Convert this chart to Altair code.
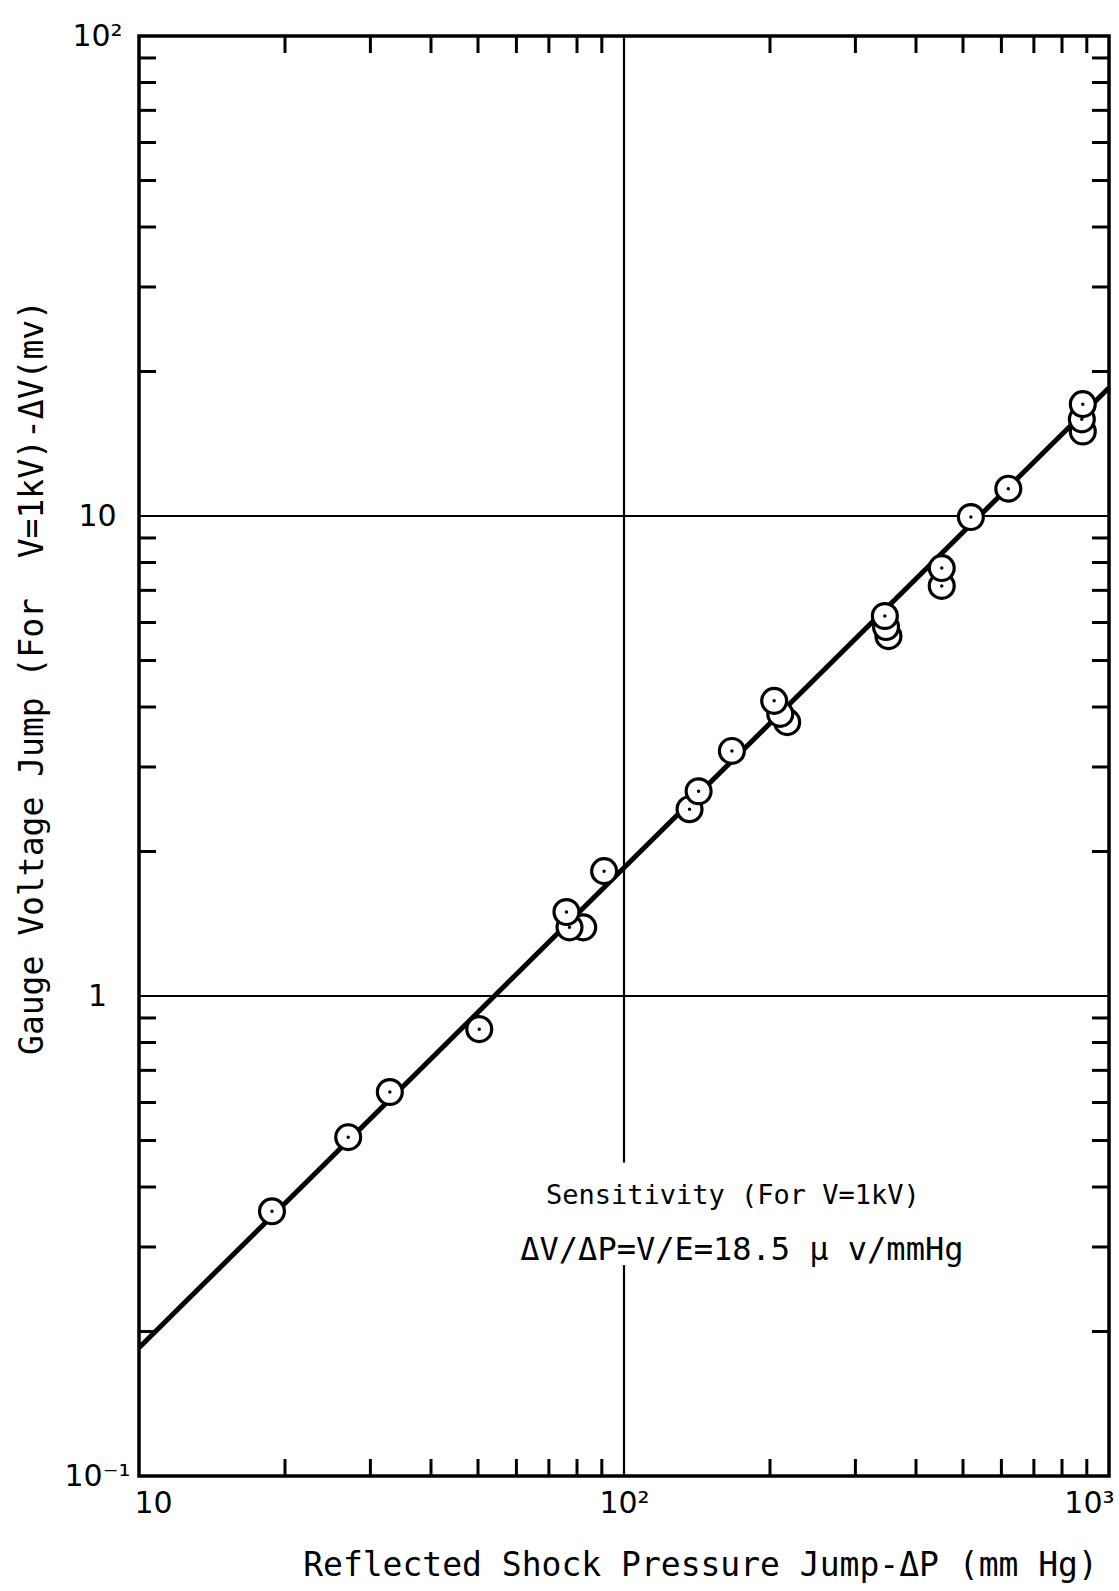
import altair as alt
import pandas as pd

# ---- data ----
pressure = [18.8, 27.0, 32.9, 50.3, 82.4, 77.2, 76.1, 91.0, 136.5, 142.5, 166.9,
            217, 210, 204, 351, 347, 345, 452, 452, 519, 620, 883, 879, 883]
voltage = [0.356, 0.508, 0.631, 0.853, 1.39, 1.39, 1.496, 1.82, 2.45, 2.67, 3.24,
           3.72, 3.87, 4.12, 5.62, 5.87, 6.19, 7.15, 7.79, 9.95, 11.4, 15.0, 15.9, 17.1]
dotted = [1, 1, 1, 1, 0, 1, 1, 1, 1, 1, 1,
          0, 0, 1, 0, 0, 1, 1, 1, 1, 1, 0, 1, 1]

fit_x = [10, 1000]
fit_y = [0.185, 18.5]

grid_y = [1, 10]
vgrid_upper = [100, 0.45]
vgrid_lower = [0.275, 0.1]

x_minor = [20, 30, 40, 50, 60, 70, 80, 90, 200, 300, 400, 500, 600, 700, 800, 900]
y_minor = [0.2, 0.3, 0.4, 0.5, 0.6, 0.7, 0.8, 0.9, 2, 3, 4, 5, 6, 7, 8, 9,
           20, 30, 40, 50, 60, 70, 80, 90]

x_label_values = [10, 100, 1000]
y_label_values = [0.1, 1, 10, 100]

note_lines = ["Sensitivity (For V=1kV)", "ΔV/ΔP=V/E=18.5 μ v/mmHg"]
note_x = [167.7, 175.0]
note_y = [0.383, 0.296]
note_size = [27, 32]

W, H = 970, 1440
FONT = "DejaVu Sans"
LETTER = "DejaVu Sans Mono"
TICK = 17

points = pd.DataFrame({"p": pressure, "v": voltage, "dot": dotted,
                       "order": list(range(len(pressure)))})
fit = pd.DataFrame({"p": fit_x, "v": fit_y})
hgrid = pd.DataFrame({"v": grid_y, "p": [10] * len(grid_y), "p2": [1000] * len(grid_y)})
vgrid = pd.DataFrame({"p": [100, 100], "v": [vgrid_upper[0], vgrid_lower[0]],
                      "v2": [vgrid_upper[1], vgrid_lower[1]]})
xt = pd.DataFrame({"p": x_minor})
yt = pd.DataFrame({"v": y_minor})
notes = pd.DataFrame({"t": note_lines, "p": note_x, "v": note_y, "s": note_size})

xscale = alt.Scale(type="log", domain=[10, 1000], nice=False)
yscale = alt.Scale(type="log", domain=[0.1, 100], nice=False)

xaxis = alt.Axis(
    values=x_label_values,
    labelExpr="datum.value < 50 ? '10' : datum.value < 500 ? '10²' : '10³'",
    ticks=False, domain=False, grid=False,
    labelFont=FONT, labelFontSize=30, labelPadding=12, labelColor="black",
    labelFlush=True, labelFlushOffset=5,
    title="Reflected Shock Pressure Jump-ΔP (mm Hg)",
    titleFont=LETTER, titleFontSize=33, titleFontWeight="normal", titleColor="black",
    titleX=561, titleY=89, titleAlign="center", titleBaseline="middle",
)
yaxis = alt.Axis(
    values=y_label_values,
    labelExpr="datum.value < 0.5 ? '10⁻¹' : datum.value < 5 ? '1' : datum.value < 50 ? '10' : '10²'",
    ticks=False, domain=False, grid=False,
    labelFont=FONT, labelFontSize=30, labelPadding=42, labelAlign="center",
    labelBaseline="middle", labelColor="black", labelFlush=False,
    title="Gauge Voltage Jump (For\u00a0 V=1kV)-ΔV(mv)",
    titleFont=LETTER, titleFontSize=33, titleFontWeight="normal", titleColor="black",
    titleX=-107, titleY=641, titleAngle=270, titleAlign="center", titleBaseline="middle",
)


def X(field="p"):
    return alt.X(f"{field}:Q", scale=xscale, axis=xaxis)


def Y(field="v"):
    return alt.Y(f"{field}:Q", scale=yscale, axis=yaxis)


hgrid_layer = alt.Chart(hgrid).mark_rule(color="black", strokeWidth=2).encode(
    x=X(), x2="p2:Q", y=Y())
vgrid_layer = alt.Chart(vgrid).mark_rule(color="black", strokeWidth=2.2).encode(
    x=X(), y=Y(), y2="v2:Q")

tick_style = dict(color="black", strokeWidth=3)
bottom_ticks = alt.Chart(xt).mark_rule(**tick_style).encode(
    x=X(), y=alt.value(H), y2=alt.value(H - TICK))
top_ticks = alt.Chart(xt).mark_rule(**tick_style).encode(
    x=X(), y=alt.value(0), y2=alt.value(TICK))
left_ticks = alt.Chart(yt).mark_rule(**tick_style).encode(
    y=Y(), x=alt.value(0), x2=alt.value(TICK))
right_ticks = alt.Chart(yt).mark_rule(**tick_style).encode(
    y=Y(), x=alt.value(W), x2=alt.value(W - TICK))

fit_layer = alt.Chart(fit).mark_line(color="black", strokeWidth=5).encode(
    x=X(), y=Y())

circles = alt.Chart(points).mark_point(
    shape="circle", filled=False, fill="white", fillOpacity=1,
    stroke="black", strokeWidth=3.2, size=620, opacity=1
).encode(x=X(), y=Y(), order="order:Q")

dots = alt.Chart(points).transform_filter("datum.dot == 1").mark_point(
    shape="circle", filled=True, color="black", size=12, opacity=1
).encode(x=X(), y=Y())

note_layer = alt.Chart(notes).mark_text(
    font=LETTER, color="black", align="center", baseline="middle"
).encode(x=X(), y=Y(), text="t:N", size=alt.Size("s:Q", scale=None, legend=None))

chart = alt.layer(
    hgrid_layer, vgrid_layer, bottom_ticks, top_ticks, left_ticks, right_ticks,
    fit_layer, circles, dots, note_layer
).properties(
    width=W, height=H,
    autosize=alt.AutoSizeParams(type="none"),
    padding={"left": 139, "top": 36, "right": 10, "bottom": 115},
    background="white",
).configure_view(stroke="black", strokeWidth=3.5)

chart.save("out.html", embed_options={"renderer": "svg", "actions": False})
